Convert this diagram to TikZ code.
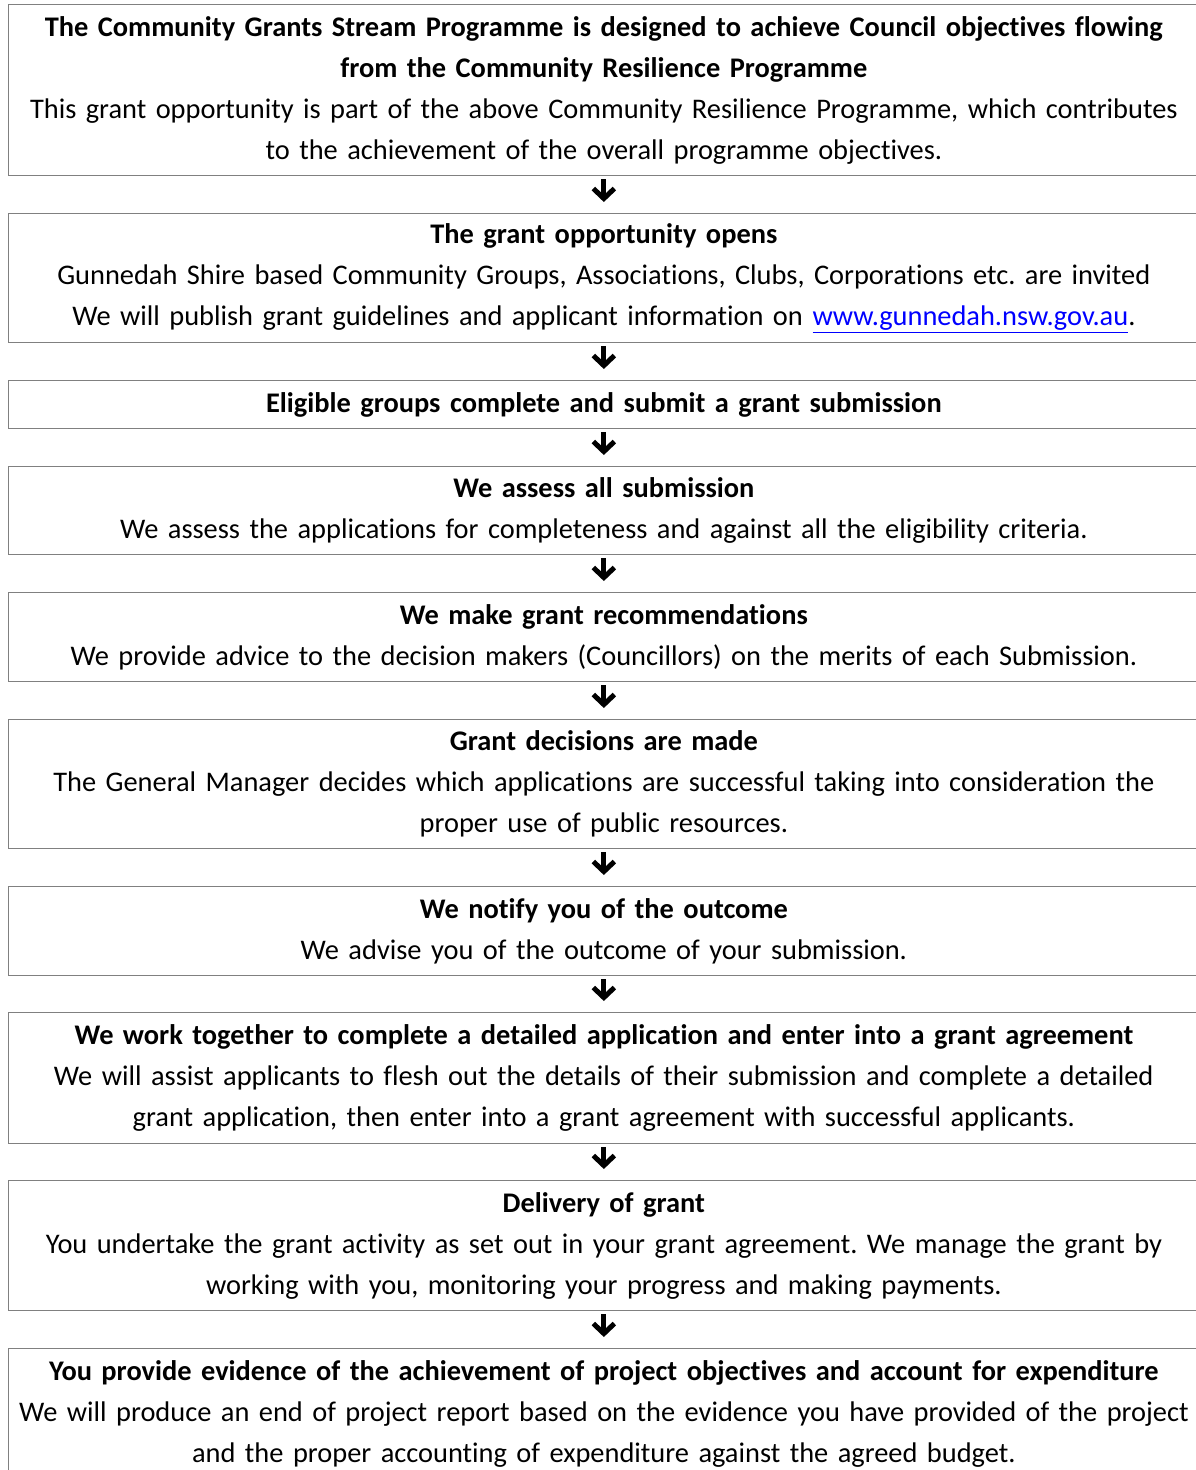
\documentclass[tikz,border=0pt]{standalone}
\usepackage{fontspec}
\setmainfont[Ligatures=NoCommon]{Carlito}
\usetikzlibrary{arrows.meta}
\definecolor{boxgray}{HTML}{808080}
\definecolor{linkblue}{HTML}{0000FF}
\frenchspacing
\begin{document}
\begin{tikzpicture}[x=1pt,y=-1pt,
  stage/.style={draw=boxgray, line width=1.2pt, anchor=north west,
    minimum width=1191.5pt, inner sep=0pt, align=center, text width=1188pt,
    font=\fontsize{28.4}{41}\selectfont},
  flowarrow/.style={line width=4.8pt, -{Straight Barb[length=10pt,width=21pt,line width=5pt]},
    shorten <=3pt, shorten >=11pt}]
\useasboundingbox (0,0) rectangle (1196,1470);
\clip (0,0) rectangle (1196,1470);
\node[stage, minimum height=171pt] (b1) at (7.5,4) {\textbf{The Community Grants Stream Programme is designed to achieve Council objectives flowing}\\\textbf{from the Community Resilience Programme}\\This grant opportunity is part of the above Community Resilience Programme, which contributes\\to the achievement of the overall programme objectives.};
\node[stage, minimum height=129pt] (b2) at (7.5,213) {\textbf{The grant opportunity opens}\\Gunnedah Shire based Community Groups, Associations, Clubs, Corporations etc. are invited\\We will publish grant guidelines and applicant information on {\color{linkblue}\underline{www.gunnedah.nsw.gov.au}}.};
\node[stage, minimum height=48pt] (b3) at (7.5,380) {\textbf{Eligible groups complete and submit a grant submission}};
\node[stage, minimum height=88pt] (b4) at (7.5,466) {\textbf{We assess all submission}\\We assess the applications for completeness and against all the eligibility criteria.};
\node[stage, minimum height=89pt] (b5) at (7.5,592) {\textbf{We make grant recommendations}\\We provide advice to the decision makers (Councillors) on the merits of each Submission.};
\node[stage, minimum height=129pt] (b6) at (7.5,719) {\textbf{Grant decisions are made}\\The General Manager decides which applications are successful taking into consideration the\\proper use of public resources.};
\node[stage, minimum height=89pt] (b7) at (7.5,886) {\textbf{We notify you of the outcome}\\We advise you of the outcome of your submission.};
\node[stage, minimum height=131pt] (b8) at (7.5,1012) {\textbf{We work together to complete a detailed application and enter into a grant agreement}\\We will assist applicants to flesh out the details of their submission and complete a detailed\\grant application, then enter into a grant agreement with successful applicants.};
\node[stage, minimum height=130pt] (b9) at (7.5,1180) {\textbf{Delivery of grant}\\You undertake the grant activity as set out in your grant agreement. We manage the grant by\\working with you, monitoring your progress and making payments.};
\node[stage, minimum height=131pt] (b10) at (7.5,1348) {\textbf{You provide evidence of the achievement of project objectives and account for expenditure}\\We will produce an end of project report based on the evidence you have provided of the project\\and the proper accounting of expenditure against the agreed budget.};
\foreach \a/\b in {b1/b2,b2/b3,b3/b4,b4/b5,b5/b6,b6/b7,b7/b8,b8/b9,b9/b10}
  \draw[flowarrow] (\a.south) -- (\b.north);
\end{tikzpicture}
\end{document}
